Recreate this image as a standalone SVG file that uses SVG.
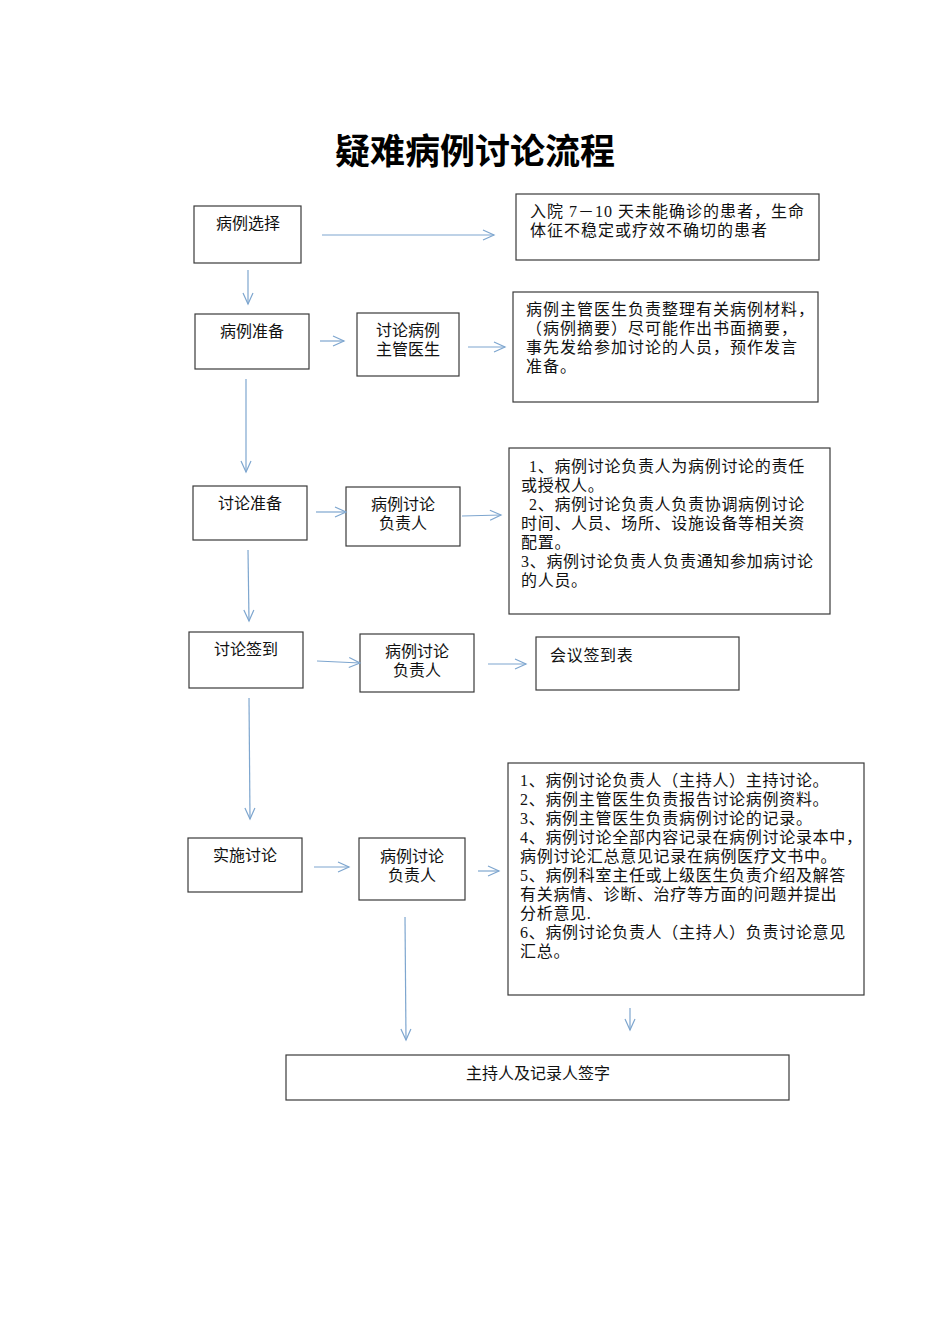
<svg xmlns="http://www.w3.org/2000/svg" width="950" height="1344" viewBox="0 0 950 1344">
<style>
.box{fill:#fff;stroke:#3a3a3a;stroke-width:1.2}
.t{font-family:"Liberation Serif","Noto Sans CJK SC",serif;font-size:16px;fill:#111}
.c{text-anchor:middle}
.ls{letter-spacing:1px}
.lm{letter-spacing:0.7px}
.title{font-family:"Liberation Serif","Noto Sans CJK SC",serif;font-size:35px;font-weight:bold;fill:#000;text-anchor:middle}
.conn line{stroke:#7ea6cf;stroke-width:1.2;fill:none;marker-end:url(#ah)}
</style>
<defs>
<marker id="ah" markerUnits="userSpaceOnUse" markerWidth="14" markerHeight="12" refX="12" refY="6" orient="auto">
<path d="M1,1 L12,6 L1,11" fill="none" stroke="#7ea6cf" stroke-width="1.2"/>
</marker>
</defs>
<rect width="950" height="1344" fill="#fff"/>
<text class="title" x="475" y="164">疑难病例讨论流程</text>

<g id="n1"><rect class="box" x="194" y="206" width="107" height="57"/><text class="t c" x="248" y="229">病例选择</text></g>
<g id="n2"><rect class="box" x="516" y="194" width="303" height="66"/>
<text class="t ls" x="530" y="217">入院 7－10 天未能确诊的患者，生命</text>
<text class="t ls" x="530" y="236">体征不稳定或疗效不确切的患者</text></g>

<g id="n3"><rect class="box" x="195" y="314" width="114" height="55"/><text class="t c" x="252" y="337">病例准备</text></g>
<g id="n4"><rect class="box" x="357" y="313" width="102" height="63"/>
<text class="t c" x="408" y="336">讨论病例</text><text class="t c" x="408" y="355">主管医生</text></g>
<g id="n5"><rect class="box" x="513" y="292" width="305" height="110"/>
<text class="t ls" x="526" y="315">病例主管医生负责整理有关病例材料，</text>
<text class="t ls" x="526" y="334">（病例摘要）尽可能作出书面摘要，</text>
<text class="t ls" x="526" y="353">事先发给参加讨论的人员，预作发言</text>
<text class="t ls" x="526" y="372">准备。</text></g>

<g id="n6"><rect class="box" x="193" y="486" width="114" height="54"/><text class="t c" x="250" y="509">讨论准备</text></g>
<g id="n7"><rect class="box" x="346" y="487" width="114" height="59"/>
<text class="t c" x="403" y="510">病例讨论</text><text class="t c" x="403" y="529">负责人</text></g>
<g id="n8"><rect class="box" x="509" y="448" width="321" height="166"/>
<text class="t lm" x="529" y="472">1、病例讨论负责人为病例讨论的责任</text>
<text class="t lm" x="521" y="491">或授权人。</text>
<text class="t lm" x="529" y="510">2、病例讨论负责人负责协调病例讨论</text>
<text class="t lm" x="521" y="529">时间、人员、场所、设施设备等相关资</text>
<text class="t lm" x="521" y="548">配置。</text>
<text class="t lm" x="521" y="567">3、病例讨论负责人负责通知参加病讨论</text>
<text class="t lm" x="521" y="586">的人员。</text></g>

<g id="n9"><rect class="box" x="189" y="632" width="114" height="56"/><text class="t c" x="246" y="655">讨论签到</text></g>
<g id="n10"><rect class="box" x="360" y="634" width="114" height="58"/>
<text class="t c" x="417" y="657">病例讨论</text><text class="t c" x="417" y="676">负责人</text></g>
<g id="n11"><rect class="box" x="536" y="637" width="203" height="53"/><text class="t lm" x="550" y="661">会议签到表</text></g>

<g id="n12"><rect class="box" x="188" y="838" width="114" height="54"/><text class="t c" x="245" y="861">实施讨论</text></g>
<g id="n13"><rect class="box" x="359" y="838" width="106" height="62"/>
<text class="t c" x="412" y="862">病例讨论</text><text class="t c" x="412" y="881">负责人</text></g>
<g id="n14"><rect class="box" x="508" y="763" width="356" height="232"/>
<text class="t lm" x="520" y="786">1、病例讨论负责人（主持人）主持讨论。</text>
<text class="t lm" x="520" y="805">2、病例主管医生负责报告讨论病例资料。</text>
<text class="t lm" x="520" y="824">3、病例主管医生负责病例讨论的记录。</text>
<text class="t lm" x="520" y="843">4、病例讨论全部内容记录在病例讨论录本中，</text>
<text class="t lm" x="520" y="862">病例讨论汇总意见记录在病例医疗文书中。</text>
<text class="t lm" x="520" y="881">5、病例科室主任或上级医生负责介绍及解答</text>
<text class="t lm" x="520" y="900">有关病情、诊断、治疗等方面的问题并提出</text>
<text class="t lm" x="520" y="919">分析意见.</text>
<text class="t lm" x="520" y="938">6、病例讨论负责人（主持人）负责讨论意见</text>
<text class="t lm" x="520" y="957">汇总。</text></g>

<g id="n15"><rect class="box" x="286" y="1055" width="503" height="45"/><text class="t c" x="538" y="1079">主持人及记录人签字</text></g>

<g id="connectors" class="conn">
<line x1="322" y1="235" x2="494" y2="235"/>
<line x1="248" y1="270" x2="248" y2="304"/>
<line x1="320" y1="341" x2="344" y2="341"/>
<line x1="468" y1="347" x2="505" y2="347"/>
<line x1="246" y1="379" x2="246" y2="472"/>
<line x1="316" y1="512" x2="346" y2="512"/>
<line x1="462" y1="516" x2="501" y2="515"/>
<line x1="248" y1="550" x2="249" y2="621"/>
<line x1="317" y1="661" x2="360" y2="663"/>
<line x1="488" y1="664" x2="526" y2="664"/>
<line x1="249" y1="698" x2="250" y2="819"/>
<line x1="314" y1="867" x2="349" y2="867"/>
<line x1="478" y1="871" x2="499" y2="871"/>
<line x1="405" y1="917" x2="406" y2="1040"/>
<line x1="630" y1="1008" x2="630" y2="1030"/>
</g>
</svg>
